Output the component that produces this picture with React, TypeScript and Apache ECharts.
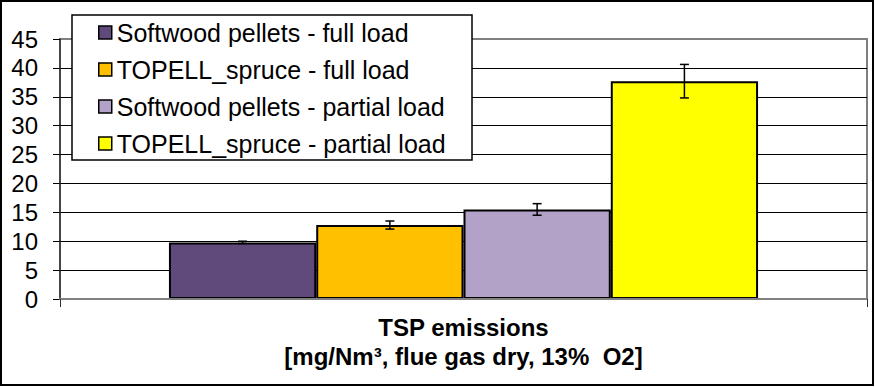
import React, { useEffect, useRef } from "react";
import * as echarts from "echarts";

const categories = ["TSP emissions\n[mg/Nm³, flue gas dry, 13%  O2]"];
const seriesNames = [
  "Softwood pellets - full load",
  "TOPELL_spruce - full load",
  "Softwood pellets - partial load",
  "TOPELL_spruce - partial load",
];
const values = [9.8, 12.8, 15.5, 37.7];
const errors = [0.2, 0.7, 1.0, 2.9];
const colors = ["#604A7B", "#FFC000", "#B2A2C7", "#FFFF00"];
const yMin = 0;
const yMax = 45;
const yInterval = 5;

const FONT = "'Liberation Sans', Arial, sans-serif";
const CATEGORY_GAP = 0.27;

export default function App() {
  const ref = useRef<HTMLDivElement>(null);

  useEffect(() => {
    if (!ref.current) return;
    const chart = echarts.init(ref.current, undefined, { renderer: "svg" });

    const barSeries = seriesNames.map((name, i) => ({
      name,
      type: "bar",
      data: [values[i]],
      barGap: "0%",
      barCategoryGap: `${CATEGORY_GAP * 100}%`,
      itemStyle: { color: colors[i], borderColor: "#000", borderWidth: 2 },
      z: 2,
    }));

    const errorSeries = {
      type: "custom",
      name: "errors",
      encode: { x: 0, y: 1 },
      data: values.map((v, i) => [0, v, errors[i], i]),
      z: 5,
      renderItem: (params: any, api: any) => {
        const cat = api.value(0);
        const v = api.value(1);
        const e = api.value(2);
        const idx = api.value(3);
        const band = api.size([1, 0])[0];
        const bw = (band * (1 - CATEGORY_GAP)) / seriesNames.length;
        const center = api.coord([cat, v])[0];
        const x = center + (idx - (seriesNames.length - 1) / 2) * bw;
        const yHi = api.coord([cat, v + e])[1];
        const yLo = api.coord([cat, v - e])[1];
        const cap = 4.5;
        const style = { stroke: "#000", lineWidth: 1.5 };
        return {
          type: "group",
          children: [
            { type: "line", shape: { x1: x, y1: yHi, x2: x, y2: yLo }, style },
            { type: "line", shape: { x1: x - cap, y1: yHi, x2: x + cap, y2: yHi }, style },
            { type: "line", shape: { x1: x - cap, y1: yLo, x2: x + cap, y2: yLo }, style },
          ],
        };
      },
    };

    chart.setOption({
      animation: false,
      backgroundColor: "#fff",
      textStyle: { fontFamily: FONT, color: "#000" },
      grid: {
        left: 60,
        right: 8,
        top: 39,
        bottom: 88,
        show: true,
        borderColor: "#808080",
        borderWidth: 2,
        backgroundColor: "transparent",
      },
      graphic: [
        {
          type: "rect",
          shape: { x: 1, y: 1, width: 872, height: 384 },
          style: { fill: "none", stroke: "#000", lineWidth: 2 },
          z: 1,
        },
        {
          type: "rect",
          shape: { x: 72, y: 15, width: 400, height: 145 },
          style: { fill: "#fff", stroke: "#000", lineWidth: 1.5 },
          z: 50,
        },
      ],
      legend: {
        data: seriesNames,
        orient: "vertical",
        left: 72,
        top: 15,
        padding: [5, 27, 5, 26],
        itemWidth: 13,
        itemHeight: 13,
        itemGap: 12,
        icon: "rect",
        z: 100,
        itemStyle: { borderColor: "#000", borderWidth: 1.5 },
        textStyle: { fontSize: 25, lineHeight: 25, color: "#000", fontFamily: FONT },
      },
      xAxis: {
        type: "category",
        data: categories,
        boundaryGap: true,
        axisLine: { show: true, lineStyle: { color: "#808080", width: 2 } },
        axisTick: { show: true, length: 8, lineStyle: { color: "#333", width: 1 } },
        axisLabel: {
          fontSize: 24,
          fontWeight: "bold",
          lineHeight: 29,
          margin: 14,
          color: "#000",
          fontFamily: FONT,
        },
        z: 3,
      },
      yAxis: {
        type: "value",
        min: yMin,
        max: yMax,
        interval: yInterval,
        axisLine: { show: true, lineStyle: { color: "#333", width: 1.5 } },
        axisTick: { show: true, length: 7, lineStyle: { color: "#000", width: 1 } },
        axisLabel: { fontSize: 24, color: "#000", margin: 22, fontFamily: FONT },
        splitLine: {
          show: true,
          showMaxLine: false,
          showMinLine: false,
          lineStyle: { color: "#000", width: 1 },
        },
      },
      series: [...barSeries, errorSeries],
    });

    return () => chart.dispose();
  }, []);

  return (
    <div
      ref={ref}
      style={{ position: "fixed", left: 0, top: 0, width: 875, height: 387 }}
    />
  );
}
